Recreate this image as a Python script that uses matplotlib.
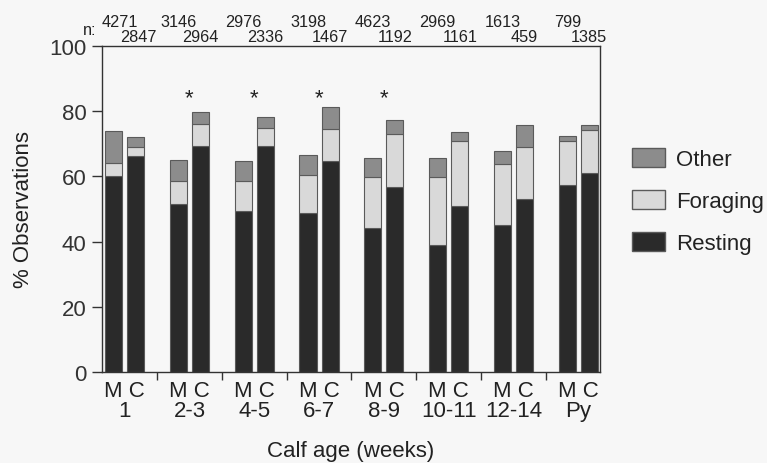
import matplotlib
matplotlib.use("Agg")
import matplotlib.pyplot as plt
import numpy as np
from matplotlib.patches import Patch
from matplotlib.transforms import blended_transform_factory

plt.rcParams['font.family'] = ['Liberation Sans', 'DejaVu Sans']

groups = ["1", "2-3", "4-5", "6-7", "8-9", "10-11", "12-14", "Py"]
# Cumulative tops: resting, resting+foraging, total
m_resting = [60.0, 51.5, 49.3, 48.9, 44.3, 39.0, 45.2, 57.3]
m_forage_top = [64.2, 58.7, 58.7, 60.3, 59.9, 59.9, 63.9, 71.0]
m_total = [74.0, 65.1, 64.6, 66.7, 65.6, 65.6, 67.7, 72.4]
c_resting = [66.3, 69.3, 69.3, 64.6, 56.7, 51.0, 53.2, 60.9]
c_forage_top = [68.9, 76.2, 74.9, 74.4, 73.0, 70.9, 69.1, 74.3]
c_total = [72.0, 79.9, 78.3, 81.4, 77.3, 73.5, 75.7, 75.7]
n_m = [4271, 3146, 2976, 3198, 4623, 2969, 1613, 799]
n_c = [2847, 2964, 2336, 1467, 1192, 1161, 459, 1385]
significant = [False, True, True, True, True, False, False, False]

col_rest = "#2a2a2a"
col_forage = "#d9d9d9"
col_other = "#8c8c8c"
edge = "#5a5a5a"

fig = plt.figure(figsize=(7.67, 4.64), dpi=100)
fig.patch.set_facecolor("#f7f7f7")
ax = fig.add_axes([102/767, (464-373)/464, (600-102)/767, (373-47)/464])
ax.set_facecolor("#f7f7f7")

x = np.arange(len(groups))
off = 0.17
w = 0.265
for xs, res, ft, tot in [(x - off, m_resting, m_forage_top, m_total),
                         (x + off, c_resting, c_forage_top, c_total)]:
    res = np.array(res); ft = np.array(ft); tot = np.array(tot)
    ax.bar(xs, res, w, color=col_rest, edgecolor=edge, linewidth=0.8)
    ax.bar(xs, ft - res, w, bottom=res, color=col_forage, edgecolor=edge, linewidth=0.8)
    ax.bar(xs, tot - ft, w, bottom=ft, color=col_other, edgecolor=edge, linewidth=0.8)

ax.set_xlim(-0.35, 7.335)
ax.set_ylim(0, 100)
ax.set_yticks(np.arange(0, 101, 20))
ax.tick_params(axis='y', labelsize=16, length=7, width=1, direction='out', colors='#333333', pad=4)
ax.set_xticks(np.arange(len(groups) - 1) + 0.5)
ax.set_xticklabels([])
ax.tick_params(axis='x', length=6, width=1, direction='out', colors='#333333')
for s in ax.spines.values():
    s.set_color('#333333')
    s.set_linewidth(1.0)

tr = blended_transform_factory(ax.transData, ax.transAxes)
for i, g in enumerate(groups):
    shift = 0.09 if i == 0 else 0.0
    ax.text(i, -0.0245, "M C\n" + g, transform=tr, ha='center', va='top', multialignment='center',
            fontsize=16, color='#222222', linespacing=0.92)
    ax.text(i - off + shift, 1.074, str(n_m[i]), transform=tr, ha='center', va='center', fontsize=11.7, color='#222222')
    ax.text(i + off + shift / 2, 1.030, str(n_c[i]), transform=tr, ha='center', va='center', fontsize=11.7, color='#222222')
    if significant[i]:
        ax.text(i, 84.0, "*", ha='center', va='center', fontsize=16, color='#222222')
ax.text(-0.535, 1.052, "n:", transform=tr, ha='center', va='center', fontsize=11.7, color='#222222')

ax.set_ylabel("% Observations", fontsize=16, color='#222222', labelpad=11)
ax.text(0.5, -0.241, "Calf age (weeks)", transform=ax.transAxes, ha='center', va='center',
        fontsize=16, color='#222222')

handles = [Patch(facecolor=col_other, edgecolor=edge, label="Other"),
           Patch(facecolor=col_forage, edgecolor=edge, label="Foraging"),
           Patch(facecolor=col_rest, edgecolor=edge, label="Resting")]
leg = fig.legend(handles=handles, loc='center left', bbox_to_anchor=(612/767, 1 - 202/464),
                 frameon=False, fontsize=16, handlelength=1.5, handleheight=0.95,
                 labelspacing=0.9, handletextpad=0.5, labelcolor='#222222')

fig.savefig("out.png", dpi=100, facecolor=fig.get_facecolor())
